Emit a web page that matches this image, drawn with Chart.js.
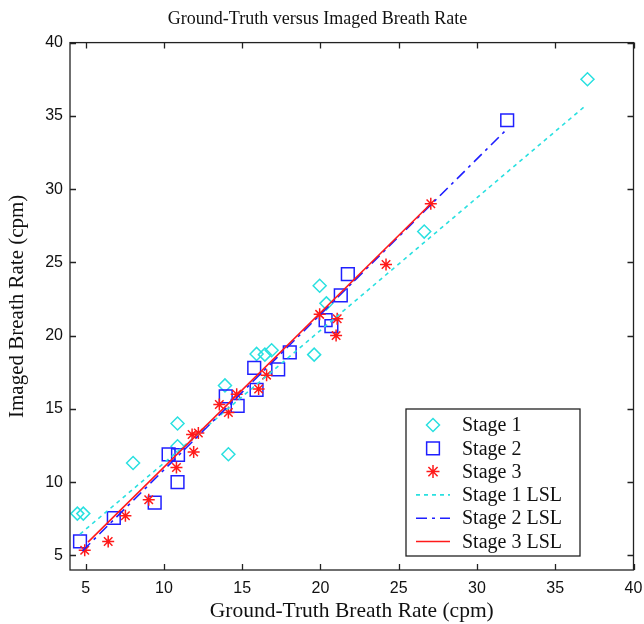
<!DOCTYPE html>
<html>
<head>
<meta charset="utf-8">
<title>Ground-Truth versus Imaged Breath Rate</title>
<script src="https://cdn.jsdelivr.net/npm/chart.js@4.4.1/dist/chart.umd.min.js"></script>
<style>
  html, body { margin: 0; padding: 0; background: #fff; }
  #wrap { width: 644px; height: 624px; }
</style>
</head>
<body>
<div id="wrap"><canvas id="chart" width="644" height="624"></canvas></div>
<script>
// ---------- data (cpm) ----------
const stage1X = [4.47, 4.85, 8.03, 10.87, 10.87, 14.12, 13.9, 15.92, 16.45, 16.88, 19.6, 19.95, 20.38, 26.63, 37.06];
const stage1Y = [7.85, 7.85, 11.3, 14.0, 12.45, 11.9, 16.6, 18.75, 18.7, 19.0, 18.7, 23.4, 22.2, 27.1, 37.5];

const stage2X = [4.64, 6.8, 9.41, 10.3, 10.9, 10.87, 13.95, 14.71, 15.77, 15.92, 17.3, 18.04, 20.33, 20.7, 21.3, 21.75, 31.93];
const stage2Y = [5.95, 7.55, 8.6, 11.9, 11.85, 10.0, 15.85, 15.2, 17.8, 16.3, 17.7, 18.85, 21.05, 20.65, 22.75, 24.2, 34.7];

const stage3X = [4.94, 6.44, 7.54, 9.03, 10.8, 11.9, 11.8, 12.2, 13.54, 14.12, 14.65, 16.05, 16.56, 19.95, 21.07, 21.0, 24.19, 27.05];
const stage3Y = [5.35, 5.95, 7.7, 8.8, 11.0, 12.05, 13.25, 13.35, 15.3, 14.75, 16.0, 16.35, 17.3, 21.45, 21.15, 20.0, 24.85, 29.0];

// least-squares lines, end points as drawn
const lsl1X = [4.64, 37.0];
const lsl1Y = [6.45, 35.75];
const lsl2X = [4.79, 31.78];
const lsl2Y = [5.3, 33.95];
const lsl3X = [5.15, 27.05];
const lsl3Y = [5.9, 29.0];

const xTicks = [5, 10, 15, 20, 25, 30, 35, 40];
const yTicks = [5, 10, 15, 20, 25, 30, 35, 40];

const CYAN = '#2ae0e0';
const BLUE = '#1f1fff';
const RED = '#ff1a1a';
const SERIF = "'Liberation Serif', 'Times New Roman', serif";
const SANS = "'Liberation Sans', Arial, sans-serif";

const toPoints = (xs, ys) => xs.map((x, i) => ({ x, y: ys[i] }));

// ---------- box, inward ticks and legend (MATLAB look) ----------
function drawMarker(ctx, style, x, y, r, color) {
  ctx.save();
  ctx.strokeStyle = color;
  ctx.lineWidth = 1.5;
  ctx.setLineDash([]);
  ctx.beginPath();
  if (style === 'rectRot') {
    ctx.moveTo(x, y - r); ctx.lineTo(x + r, y); ctx.lineTo(x, y + r); ctx.lineTo(x - r, y); ctx.closePath();
  } else if (style === 'rect') {
    const s = r * Math.SQRT1_2;
    ctx.rect(x - s, y - s, 2 * s, 2 * s);
  } else {
    const d = r * Math.SQRT1_2;
    ctx.moveTo(x - r, y); ctx.lineTo(x + r, y);
    ctx.moveTo(x, y - r); ctx.lineTo(x, y + r);
    ctx.moveTo(x - d, y - d); ctx.lineTo(x + d, y + d);
    ctx.moveTo(x - d, y + d); ctx.lineTo(x + d, y - d);
  }
  ctx.stroke();
  ctx.restore();
}

const matlabFrame = {
  id: 'matlabFrame',
  afterDraw(chart) {
    const { ctx, chartArea: a, scales: { x, y } } = chart;
    ctx.save();
    ctx.strokeStyle = '#222';
    ctx.lineWidth = 1.3;
    ctx.strokeRect(a.left, a.top, a.right - a.left, a.bottom - a.top);
    ctx.beginPath();
    xTicks.forEach((v) => {
      const px = Math.round(x.getPixelForValue(v)) + 0.5;
      ctx.moveTo(px, a.bottom); ctx.lineTo(px, a.bottom - 6);
      ctx.moveTo(px, a.top); ctx.lineTo(px, a.top + 6);
    });
    yTicks.forEach((v) => {
      const py = Math.round(y.getPixelForValue(v)) + 0.5;
      ctx.moveTo(a.left, py); ctx.lineTo(a.left + 6, py);
      ctx.moveTo(a.right, py); ctx.lineTo(a.right - 6, py);
    });
    ctx.stroke();

    // legend box, lower right inside the axes
    const box = { left: 406, top: 409, width: 174, height: 147 };
    ctx.fillStyle = '#fff';
    ctx.fillRect(box.left, box.top, box.width, box.height);
    ctx.lineWidth = 1.3;
    ctx.strokeStyle = '#222';
    ctx.strokeRect(box.left, box.top, box.width, box.height);
    ctx.font = '20px ' + SERIF;
    ctx.textBaseline = 'middle';
    chart.data.datasets.forEach((ds, i) => {
      const cy = box.top + 16 + i * 23.3;
      if (ds.showLine) {
        ctx.save();
        ctx.strokeStyle = ds.borderColor;
        ctx.lineWidth = ds.borderWidth;
        ctx.setLineDash(ds.borderDash || []);
        ctx.beginPath();
        ctx.moveTo(box.left + 10, cy);
        ctx.lineTo(box.left + 44, cy);
        ctx.stroke();
        ctx.restore();
      } else {
        drawMarker(ctx, ds.pointStyle, box.left + 27, cy, ds.pointStyle === 'rect' ? 9 : 6.5, ds.pointBorderColor);
      }
      ctx.fillStyle = '#111';
      ctx.fillText(ds.label, box.left + 56, cy + 1);
    });
    ctx.restore();
  },
};

function markerSet(label, xs, ys, style, radius, color, order) {
  return {
    label,
    data: toPoints(xs, ys),
    showLine: false,
    pointStyle: style,
    pointRadius: radius,
    pointHoverRadius: radius,
    pointBorderWidth: 1.5,
    pointBorderColor: color,
    pointBackgroundColor: 'rgba(0,0,0,0)',
    order,
  };
}

function lineSet(label, xs, ys, color, dash, order) {
  return {
    label,
    data: toPoints(xs, ys),
    showLine: true,
    borderColor: color,
    borderWidth: 1.6,
    borderDash: dash,
    pointRadius: 0,
    fill: false,
    order,
  };
}

new Chart(document.getElementById('chart'), {
  type: 'scatter',
  data: {
    datasets: [
      markerSet('Stage 1', stage1X, stage1Y, 'rectRot', 6.5, CYAN, 5),
      markerSet('Stage 2', stage2X, stage2Y, 'rect', 9, BLUE, 4),
      markerSet('Stage 3', stage3X, stage3Y, 'star', 6, RED, 3),
      lineSet('Stage 1 LSL', lsl1X, lsl1Y, CYAN, [4, 4], 2),
      lineSet('Stage 2 LSL', lsl2X, lsl2Y, BLUE, [11, 5, 3, 5], 1),
      lineSet('Stage 3 LSL', lsl3X, lsl3Y, RED, [], 0),
    ],
  },
  options: {
    responsive: false,
    animation: false,
    layout: { padding: { top: 0, right: 9, bottom: 0, left: 0 } },
    plugins: {
      legend: { display: false },
      tooltip: { enabled: false },
      title: {
        display: true,
        text: 'Ground-Truth versus Imaged Breath Rate',
        color: '#111',
        font: { family: SERIF, size: 18, weight: 'normal' },
        padding: { top: 8, bottom: 13 },
      },
    },
    scales: {
      x: {
        type: 'linear',
        min: 4,
        max: 40,
        afterBuildTicks: (s) => { s.ticks = xTicks.map((v) => ({ value: v })); },
        afterFit: (s) => { s.height = 54; s.paddingLeft = 0; s.paddingRight = 0; },
        grid: { display: true, drawOnChartArea: false, drawTicks: false },
        border: { display: false },
        ticks: { color: '#111', padding: 9, font: { family: SANS, size: 16 } },
        title: {
          display: true,
          text: 'Ground-Truth Breath Rate (cpm)',
          color: '#111',
          font: { family: SERIF, size: 21.5 },
          padding: { top: 0, bottom: 0 },
        },
      },
      y: {
        type: 'linear',
        min: 4,
        max: 40,
        afterBuildTicks: (s) => { s.ticks = yTicks.map((v) => ({ value: v })); },
        afterFit: (s) => { s.width = 70; },
        grid: { display: true, drawOnChartArea: false, drawTicks: false },
        border: { display: false },
        ticks: { color: '#111', padding: 7, font: { family: SANS, size: 16 } },
        title: {
          display: true,
          text: 'Imaged Breath Rate (cpm)',
          color: '#111',
          font: { family: SERIF, size: 21 },
          padding: { top: 5, bottom: 0 },
        },
      },
    },
  },
  plugins: [matlabFrame],
});
</script>
</body>
</html>
